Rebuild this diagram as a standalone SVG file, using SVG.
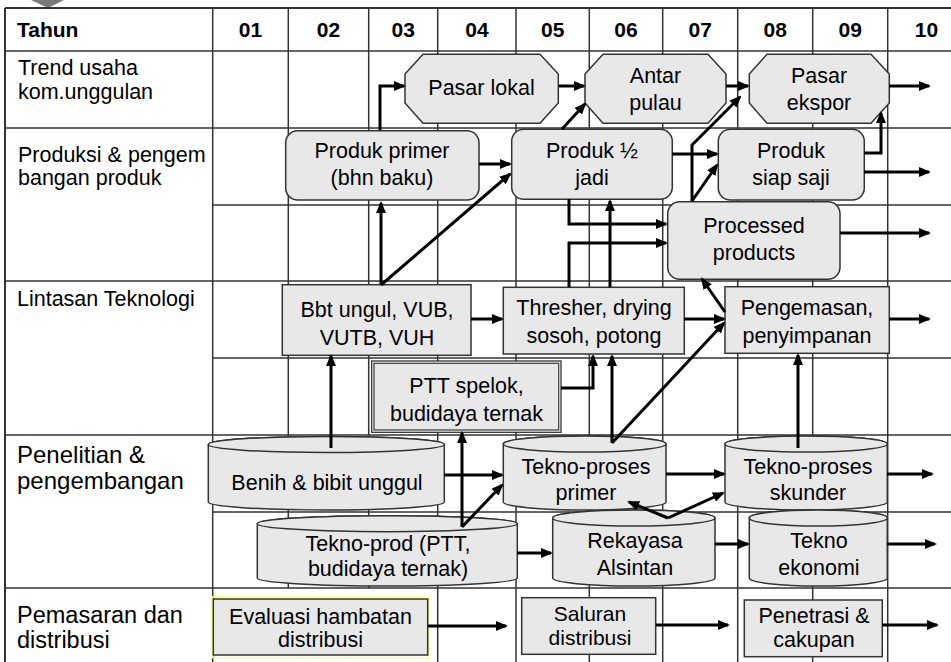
<svg xmlns="http://www.w3.org/2000/svg" width="951" height="662" viewBox="0 0 951 662">
<defs>
<style>
.g{stroke:#333;stroke-width:1.5;fill:none}
.gb{stroke:#333;stroke-width:2;fill:none}
.n{fill:#e8e8e8;stroke:#333;stroke-width:1.5}
.t{font-family:"Liberation Sans",Arial,sans-serif;font-size:21.5px;fill:#000;text-anchor:middle}
.l{font-family:"Liberation Sans",Arial,sans-serif;font-size:21.5px;fill:#000}
.h{font-family:"Liberation Sans",Arial,sans-serif;font-size:21px;font-weight:bold;fill:#000;text-anchor:middle}
.c{fill:none;stroke:#000;stroke-width:3;marker-end:url(#ah)}
</style>
<marker id="ah" markerUnits="userSpaceOnUse" markerWidth="12" markerHeight="10" refX="10" refY="5" orient="auto"><path d="M0,0 L12,5 L0,10 z" fill="#000"/></marker>
</defs>
<rect width="951" height="662" fill="#fff"/>
<polygon points="31,0 64,0 48,8" fill="#7a7a7a"/>
<g id="grid">
<path class="gb" d="M5,8 H951 M5,8 V662"/>
<path class="g" d="M5,51 H951 M5,128 H951 M5,281 H951 M5,435 H951 M5,588 H951 M212.7,205 H951 M212.7,358 H951 M212.7,512 H951"/>
<path class="g" d="M212.7,8 V662 M288.3,8 V588 M368.7,8 V588 M437.7,8 V662 M516,8 V662 M589.3,8 V662 M662.7,8 V662 M737.7,8 V662 M812.7,8 V662 M887.7,8 V662"/>
</g>
<g id="labels">
<text x="17" y="37" style="font-family:'Liberation Sans',Arial,sans-serif;font-size:21px;font-weight:bold">Tahun</text>
<text class="h" x="250.5" y="37">01</text>
<text class="h" x="328.5" y="37">02</text>
<text class="h" x="403.2" y="37">03</text>
<text class="h" x="477" y="37">04</text>
<text class="h" x="552.7" y="37">05</text>
<text class="h" x="626" y="37">06</text>
<text class="h" x="700.2" y="37">07</text>
<text class="h" x="775.2" y="37">08</text>
<text class="h" x="850.2" y="37">09</text>
<text class="h" x="926.5" y="37">10</text>
<text class="l" x="18" y="75">Trend usaha</text>
<text class="l" x="18" y="99">kom.unggulan</text>
<text class="l" x="18" y="162">Produksi &amp; pengem</text>
<text class="l" x="18" y="185">bangan produk</text>
<text class="l" x="17" y="306">Lintasan Teknologi</text>
<text class="l" x="17" y="463" style="font-size:24px">Penelitian &amp;</text>
<text class="l" x="17" y="489" style="font-size:24px">pengembangan</text>
<text class="l" x="17" y="623" style="font-size:23.5px">Pemasaran dan</text>
<text class="l" x="17" y="648" style="font-size:23.5px">distribusi</text>
</g>
<g id="n-pasar-lokal">
<polygon class="n" points="423,54.3 540,54.3 558.3,74 558.3,103 540,123.3 423,123.3 405,103 405,74"/>
<text class="t" x="481.5" y="95">Pasar lokal</text>
</g>
<g id="n-antar-pulau">
<polygon class="n" points="603,54.3 708,54.3 726,74 726,103 708,123.3 603,123.3 585,103 585,74"/>
<text class="t" x="655.5" y="83">Antar</text>
<text class="t" x="655.5" y="110">pulau</text>
</g>
<g id="n-pasar-ekspor">
<polygon class="n" points="767,54.3 871,54.3 889.3,74 889.3,103 871,123.3 767,123.3 749.3,103 749.3,74"/>
<text class="t" x="819" y="83">Pasar</text>
<text class="t" x="819" y="110">ekspor</text>
</g>
<g id="n-produk-primer">
<rect class="n" x="285.7" y="130.7" width="193.3" height="69.3" rx="12"/>
<text class="t" x="382" y="158">Produk primer</text>
<text class="t" x="382" y="185">(bhn baku)</text>
</g>
<g id="n-produk-setengah">
<rect class="n" x="511.7" y="129.3" width="160.6" height="70" rx="12"/>
<text class="t" x="592" y="158">Produk ½</text>
<text class="t" x="592" y="185">jadi</text>
</g>
<g id="n-produk-siap">
<rect class="n" x="718.3" y="129.3" width="146" height="70.7" rx="12"/>
<text class="t" x="791" y="158">Produk</text>
<text class="t" x="791" y="185">siap saji</text>
</g>
<g id="n-processed">
<rect class="n" x="667.7" y="201.7" width="172.3" height="77.6" rx="12"/>
<text class="t" x="754" y="233">Processed</text>
<text class="t" x="754" y="260">products</text>
</g>
<g id="n-bbt">
<rect class="n" x="282.3" y="284.7" width="188.7" height="70.6"/>
<text class="t" x="377" y="317">Bbt ungul, VUB,</text>
<text class="t" x="377" y="345">VUTB, VUH</text>
</g>
<g id="n-thresher">
<rect class="n" x="503.3" y="287.3" width="181" height="66.7"/>
<text class="t" x="594" y="315">Thresher, drying</text>
<text class="t" x="594" y="343">sosoh, potong</text>
</g>
<g id="n-pengemasan">
<rect class="n" x="725" y="286.7" width="164.3" height="66.6"/>
<text class="t" x="807" y="315">Pengemasan,</text>
<text class="t" x="807" y="343">penyimpanan</text>
</g>
<g id="n-ptt">
<rect x="371.7" y="361" width="189.3" height="71.3" fill="#fff" stroke="#333" stroke-width="1.3"/>
<rect x="374" y="363.3" width="184.7" height="66.7" fill="#e8e8e8" stroke="#444" stroke-width="1.3"/>
<text class="t" x="466.5" y="393">PTT spelok,</text>
<text class="t" x="466.5" y="421">budidaya ternak</text>
</g>
<g id="n-benih">
<path class="n" d="M208.3,444.5 A118,8 0 0 1 444.3,444.5 V502 A118,8 0 0 1 208.3,502 Z"/>
<ellipse class="n" cx="326.3" cy="444.5" rx="118" ry="8"/>
<text class="t" x="327" y="490">Benih &amp; bibit unggul</text>
</g>
<g id="n-tekno-prod">
<path class="n" d="M257.3,523.7 A130,8 0 0 1 517.3,523.7 V578 A130,8 0 0 1 257.3,578 Z"/>
<ellipse class="n" cx="387.3" cy="523.7" rx="130" ry="8"/>
<text class="t" x="388" y="551">Tekno-prod (PTT,</text>
<text class="t" x="388" y="576">budidaya ternak)</text>
</g>
<g id="n-tekno-primer">
<path class="n" d="M503.3,444 A81.35,8 0 0 1 666,444 V502 A81.35,8 0 0 1 503.3,502 Z"/>
<ellipse class="n" cx="584.65" cy="444" rx="81.35" ry="8"/>
<text class="t" x="586" y="474">Tekno-proses</text>
<text class="t" x="586" y="500">primer</text>
</g>
<g id="n-tekno-skunder">
<path class="n" d="M725,444 A81.15,8 0 0 1 887.3,444 V502 A81.15,8 0 0 1 725,502 Z"/>
<ellipse class="n" cx="806.15" cy="444" rx="81.15" ry="8"/>
<text class="t" x="808" y="474">Tekno-proses</text>
<text class="t" x="808" y="500">skunder</text>
</g>
<g id="n-rekayasa">
<path class="n" d="M552.7,518 A81.15,8 0 0 1 715,518 V578 A81.15,8 0 0 1 552.7,578 Z"/>
<ellipse class="n" cx="633.85" cy="518" rx="81.15" ry="8"/>
<text class="t" x="635" y="548">Rekayasa</text>
<text class="t" x="635" y="575">Alsintan</text>
</g>
<g id="n-tekno-ekonomi">
<path class="n" d="M749.3,518 A69,8 0 0 1 887.3,518 V578 A69,8 0 0 1 749.3,578 Z"/>
<ellipse class="n" cx="818.3" cy="518" rx="69" ry="8"/>
<text class="t" x="819" y="548">Tekno</text>
<text class="t" x="819" y="575">ekonomi</text>
</g>
<g id="n-evaluasi">
<rect x="212.5" y="596.7" width="216" height="61" fill="none" stroke="#ffff70" stroke-width="1.2"/>
<rect class="n" x="213.3" y="599" width="214.4" height="56"/>
<text class="t" x="320.5" y="624">Evaluasi hambatan</text>
<text class="t" x="320.5" y="647">distribusi</text>
</g>
<g id="n-saluran">
<rect class="n" x="521.7" y="597.7" width="134" height="56.6"/>
<text class="t" x="590" y="621" style="font-size:21px">Saluran</text>
<text class="t" x="590" y="645" style="font-size:21px">distribusi</text>
</g>
<g id="n-penetrasi">
<rect class="n" x="744.3" y="600" width="138" height="56.7"/>
<text class="t" x="814" y="623">Penetrasi &amp;</text>
<text class="t" x="814" y="647">cakupan</text>
</g>
<g id="connectors">
<path class="c" d="M380,130 V86 H404"/>
<path class="c" d="M559,86 H584"/>
<path class="c" d="M726,86 H748"/>
<path class="c" d="M889,86 H929"/>
<path class="c" d="M562,129 L585,104"/>
<path class="c" d="M692,201 V145 L740,97"/>
<path class="c" d="M692,201 L717,165"/>
<path class="c" d="M479,164 H510"/>
<path class="c" d="M381,285 V203"/>
<path class="c" d="M381,285 L510,174"/>
<path class="c" d="M672,154 H717"/>
<path class="c" d="M864,153 H881 V113"/>
<path class="c" d="M864,172 H929"/>
<path class="c" d="M569,199 V224 H666"/>
<path class="c" d="M569,287 V243 H666"/>
<path class="c" d="M610,287 V201"/>
<path class="c" d="M840,233 H929"/>
<path class="c" d="M471,319 H502"/>
<path class="c" d="M684,319 H724"/>
<path class="c" d="M725,312 L702,279"/>
<path class="c" d="M889,319 H929"/>
<path class="c" d="M612,443 L724,323"/>
<path class="c" d="M612,443 V356"/>
<path class="c" d="M561,388 H593 V356"/>
<path class="c" d="M331,448 V356"/>
<path class="c" d="M444,475 H502"/>
<path class="c" d="M462,527 V433"/>
<path class="c" d="M462,527 L502,485"/>
<path class="c" d="M517,553 H551"/>
<path class="c" d="M666,474 H724"/>
<path class="c" d="M668,518 L629,502"/>
<path class="c" d="M668,518 L723,493"/>
<path class="c" d="M798,448 V355"/>
<path class="c" d="M887,474 H932"/>
<path class="c" d="M715,544 H748"/>
<path class="c" d="M887,544 H935"/>
<path class="c" d="M428,626 H506"/>
<path class="c" d="M656,625 H728"/>
<path class="c" d="M882,625 H937"/>
</g>
</svg>
